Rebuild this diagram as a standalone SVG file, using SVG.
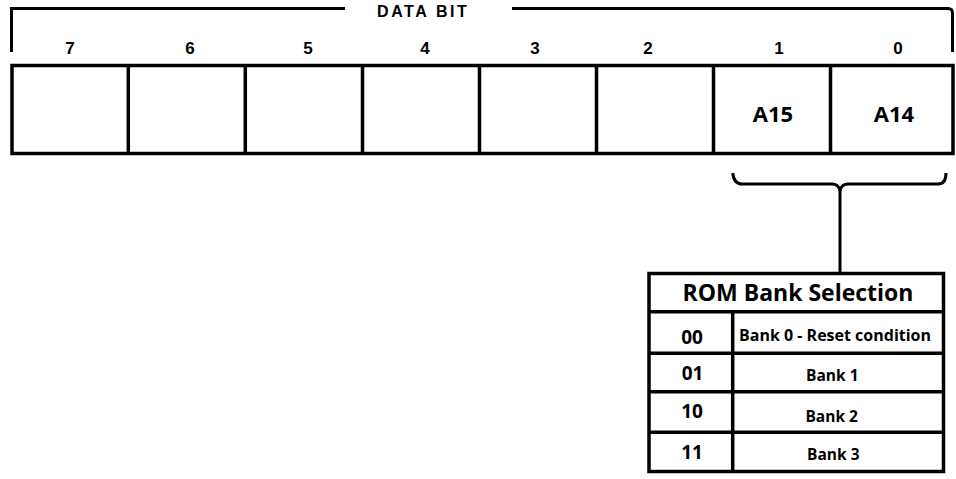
<svg xmlns="http://www.w3.org/2000/svg" width="956" height="479" viewBox="0 0 956 479">
<style>
.ln{fill:none;stroke:#000;stroke-width:3.5;stroke-linecap:butt}
.th{fill:none;stroke:#000;stroke-width:3}
.bit{font-family:"Liberation Sans",Arial,sans-serif;font-weight:bold;font-size:17px;text-anchor:middle;fill:#000}
.hdr{font-family:"Liberation Sans",Arial,sans-serif;font-weight:bold;font-size:16px;letter-spacing:2.6px;fill:#000}
.cal{font-family:"Open Sans","Noto Sans",sans-serif;font-weight:bold;text-anchor:middle;fill:#000}
</style>
<rect width="956" height="479" fill="#fff"/>
<g id="data-bit-bracket">
<path class="th" d="M11.5,52 L11.5,8.5 L345,8.5"/>
<path class="th" d="M512,8.5 L948,8.5 Q952.5,8.5 952.5,13 L952.5,52"/>
<text class="hdr" x="377" y="16.5">DATA BIT</text>
</g>
<g id="bit-labels">
<text class="bit" x="70" y="53.5">7</text>
<text class="bit" x="190" y="53.5">6</text>
<text class="bit" x="308" y="53.5">5</text>
<text class="bit" x="425" y="53.5">4</text>
<text class="bit" x="535" y="53.5">3</text>
<text class="bit" x="648" y="53.5">2</text>
<text class="bit" x="779" y="53.5">1</text>
<text class="bit" x="898" y="53.5">0</text>
</g>
<g id="register">
<rect class="ln" x="12" y="65.5" width="941" height="88"/>
<path class="ln" d="M128.3,65.5V153.5M245.3,65.5V153.5M362.5,65.5V153.5M479.5,65.5V153.5M596.5,65.5V153.5M713.5,65.5V153.5M830.5,65.5V153.5"/>
<text class="cal" x="773" y="122" font-size="22">A15</text>
<text class="cal" x="894" y="122" font-size="22">A14</text>
</g>
<g id="connectors">
<path class="th" d="M732.7,173 Q734,184 742,184 L832,184 Q838,184 840,190 Q842,184 848,184 L938,184 Q946,184 946,173"/>
<path class="th" d="M840,189 L840,273"/>
</g>
<g id="rom-bank-table">
<rect class="ln" x="649" y="273.5" width="294.5" height="198"/>
<path class="ln" d="M649,311.7H943.5M649,353.3H943.5M649,391.7H943.5M649,432.3H943.5M732.7,311.7V471.5"/>
<text class="cal" x="798" y="300.5" font-size="23">ROM Bank Selection</text>
<text class="cal" x="692" y="344" font-size="19">00</text>
<text class="cal" x="692.5" y="379.5" font-size="19">01</text>
<text class="cal" x="692" y="417.7" font-size="19">10</text>
<text class="cal" x="692" y="459.3" font-size="19">11</text>
<text class="cal" x="835" y="340.5" font-size="16">Bank 0 - Reset condition</text>
<text class="cal" x="832.3" y="381" font-size="15.5">Bank 1</text>
<text class="cal" x="831.7" y="421.7" font-size="15.5">Bank 2</text>
<text class="cal" x="833.3" y="460" font-size="15.5">Bank 3</text>
</g>
</svg>
